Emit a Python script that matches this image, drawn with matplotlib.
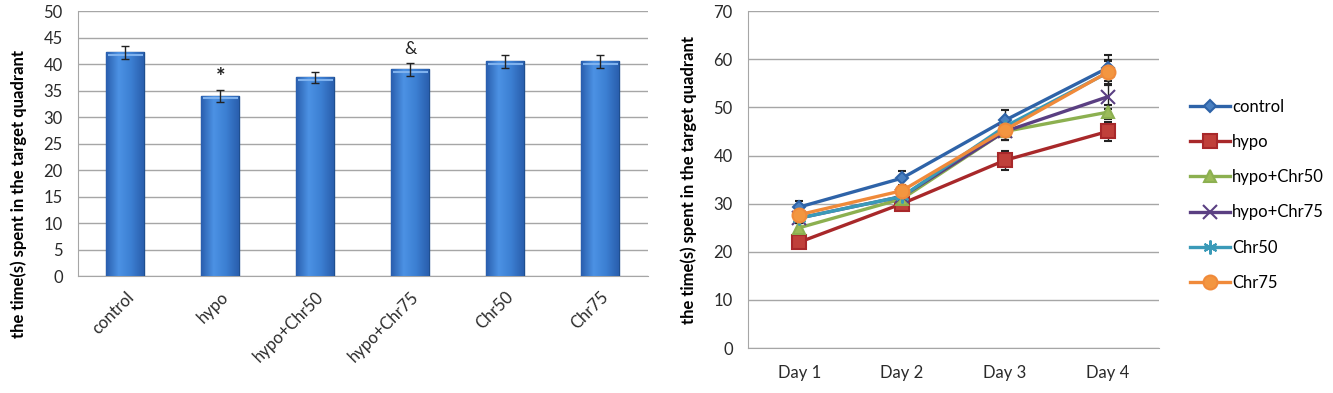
import numpy as np
import matplotlib.pyplot as plt
from matplotlib.colors import LinearSegmentedColormap

plt.rcParams['font.family'] = ['Lato', 'DejaVu Sans']

# bar chart data
groups = ['control', 'hypo', 'hypo+Chr50', 'hypo+Chr75', 'Chr50', 'Chr75']
bar_means = [42.2, 34.0, 37.5, 39.0, 40.5, 40.5]
bar_err = [1.2, 1.2, 1.1, 1.2, 1.2, 1.2]
bar_marks = ['', '*', '', '&', '', '']

# line chart data
days = ['Day 1', 'Day 2', 'Day 3', 'Day 4']
control = [29.3, 35.3, 47.3, 58.2]
hypo = [22, 30, 39, 45]
hypo_chr50 = [25, 31, 45, 49]
hypo_chr75 = [27, 31.5, 45, 52.2]
chr50 = [27, 31.5, 46, 57.2]
chr75 = [27.7, 32.7, 45.3, 57.3]
control_err = [1.3, 1.5, 2.2, 2.8]
hypo_err = [1.0, 1.0, 2.0, 2.0]
hypo_chr50_err = [1.0, 1.0, 1.8, 1.5]
hypo_chr75_err = [1.0, 1.0, 1.8, 2.5]
chr50_err = [1.0, 1.0, 1.8, 2.5]
chr75_err = [1.0, 1.0, 2.0, 2.5]

grid_col = '#a6a6a6'
tick_col = '#2a2a2a'

fig = plt.figure(figsize=(13.33, 3.93), dpi=100)

# ---- left: bar chart
ax1 = fig.add_axes([0.0585, 0.2977, 0.4276, 0.674])
x = np.arange(len(groups))
bars = ax1.bar(x, bar_means, width=0.4, color='#3f7fd0', edgecolor='#1f4f8f',
               linewidth=1.0, zorder=3)
# cylinder-like shading on each bar
shade = LinearSegmentedColormap.from_list('shade', ['#2a5fae', '#4c92e4', '#3c7fd2', '#2a5fae'])
grad = np.linspace(0, 1, 64).reshape(1, -1)
for b in bars:
    bx, by = b.get_x(), b.get_y()
    w, h = b.get_width(), b.get_height()
    im = ax1.imshow(grad, cmap=shade, aspect='auto', extent=[bx, bx + w, by, by + h],
                    zorder=3.5)
    im.set_clip_path(b)
    ax1.plot([bx + 0.02, bx + w - 0.02], [by + h - 0.45, by + h - 0.45],
             color='#7fb2ee', linewidth=1.5, zorder=3.6, solid_capstyle='butt')
ax1.errorbar(x, bar_means, yerr=bar_err, fmt='none', ecolor='#222222',
             elinewidth=1, capsize=3, zorder=4)
for xi, m, e, t in zip(x, bar_means, bar_err, bar_marks):
    if t == '*':
        ax1.text(xi, m + e + 2.2, t, ha='center', va='center', fontsize=16,
                 color='#222222', fontweight='bold')
    elif t:
        ax1.text(xi, m + e + 2.6, t, ha='center', va='center', fontsize=12.5,
                 color='#222222')
ax1.set_xlim(-0.5, len(groups) - 0.5)
ax1.set_ylim(0, 50)
ax1.set_yticks(range(0, 51, 5))
ax1.set_xticks(x)
ax1.set_xticklabels(groups, rotation=45, ha='right', rotation_mode='anchor')
ax1.yaxis.grid(True, color=grid_col, linewidth=1.0, zorder=0)
ax1.set_axisbelow(True)
for s in ['top', 'right']:
    ax1.spines[s].set_visible(False)
for s in ['left', 'bottom']:
    ax1.spines[s].set_color(grid_col)
ax1.tick_params(axis='y', length=0, labelsize=12, colors=tick_col, pad=11)
ax1.tick_params(axis='x', length=0, labelsize=12, colors=tick_col, pad=9)
ax1.set_ylabel('the time(s) spent in the target quadrant', fontsize=12,
               fontweight='bold', labelpad=12, y=0.31)

# ---- right: line chart
ax2 = fig.add_axes([0.5611, 0.1145, 0.3083, 0.857])
xd = np.arange(len(days))
series = [
    ('control', control, control_err, '#2e63a8', 'D', 6),
    ('hypo', hypo, hypo_err, '#a8282a', 's', 10),
    ('hypo+Chr50', hypo_chr50, hypo_chr50_err, '#8cb050', '^', 9),
    ('hypo+Chr75', hypo_chr75, hypo_chr75_err, '#5a3f82', 'x', 10),
    ('Chr50', chr50, chr50_err, '#3a9ab8', (6, 2, 0), 10),
    ('Chr75', chr75, chr75_err, '#f08a3a', 'o', 10),
]
mfc = {'hypo': '#c0403a', 'hypo+Chr50': '#9bbb59', 'Chr75': '#f39640', 'control': '#4a80c0'}
for name, vals, err, col, mk, ms in series:
    ax2.errorbar(xd, vals, yerr=err, color=col, linewidth=2.4, marker=mk,
                 markersize=ms, markerfacecolor=mfc.get(name, col),
                 markeredgecolor=col, markeredgewidth=1.5,
                 ecolor='#222222', elinewidth=1, capsize=3, label=name, zorder=3)
ax2.set_xlim(-0.5, len(days) - 0.5)
ax2.set_ylim(0, 70)
ax2.set_yticks(range(0, 71, 10))
ax2.set_xticks(xd)
ax2.set_xticklabels(days)
ax2.yaxis.grid(True, color=grid_col, linewidth=1.0, zorder=0)
ax2.set_axisbelow(True)
for s in ['top', 'right']:
    ax2.spines[s].set_visible(False)
for s in ['left', 'bottom']:
    ax2.spines[s].set_color(grid_col)
ax2.tick_params(axis='y', length=0, labelsize=12, colors=tick_col, pad=11)
ax2.tick_params(axis='x', length=0, labelsize=12, colors=tick_col, pad=12)
ax2.set_ylabel('the time(s) spent in the target quadrant', fontsize=12,
               fontweight='bold', labelpad=12)

handles, labels = ax2.get_legend_handles_labels()
handles = [h[0] for h in handles]
ax2.legend(handles, labels, loc='center left', bbox_to_anchor=(1.06, 0.455),
           frameon=False, fontsize=12, handlelength=2.4, handletextpad=0.1,
           labelspacing=1.15, borderaxespad=0)

fig.savefig('out.png', dpi=100)
